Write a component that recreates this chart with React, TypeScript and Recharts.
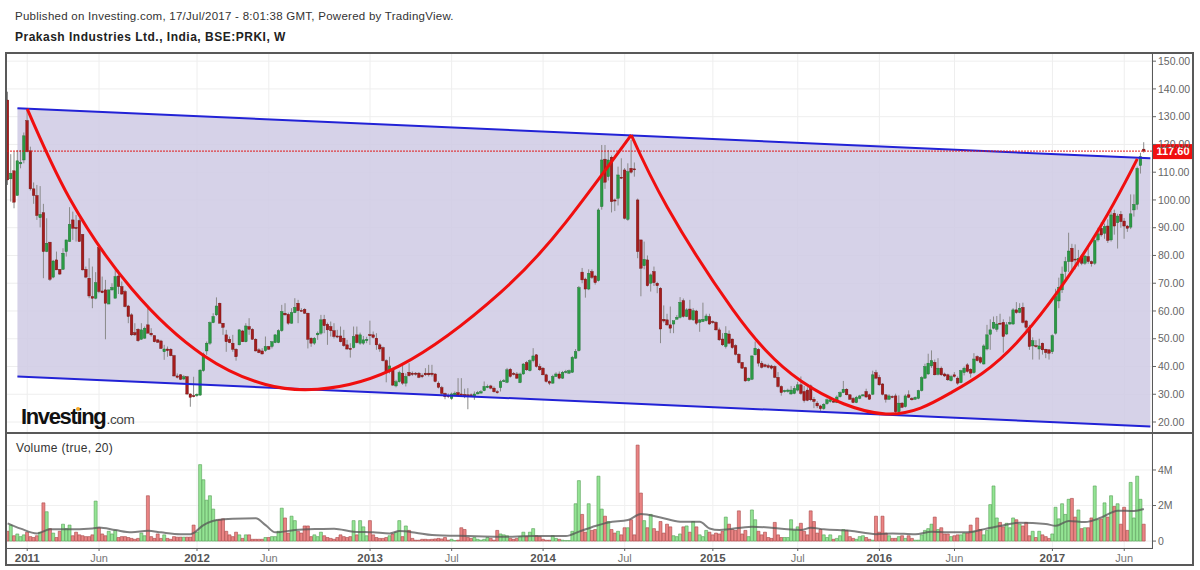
import { Area, Bar, CartesianGrid, Cell, ComposedChart, Line, ReferenceLine, XAxis, YAxis } from 'recharts';

const opens = [
  136,107.6,110.5,101.6,113,114.4,128.6,117.7,104,101.6,
  93.6,95.4,81.4,84.8,72.2,78.4,75,75,81.4,85,
  92.8,90.1,92.6,87.6,75,71.8,65.2,64.6,82.8,67.2,
  67.6,62.5,67.6,64.6,72.6,68.8,67,61.8,58.6,52.2,
  53.4,49.8,50.2,55,52,51.1,49.6,49.2,45.3,46.3,
  46.2,43.9,36.6,37,35.5,36.3,30.1,29.5,29.5,29.7,
  38.5,45.6,48.4,55.8,58.6,62.8,55.6,51.4,49.8,48.4,
  46.2,47.8,52.8,48.9,54.4,53.4,49.8,46,45.6,45.7,
  47.2,47.2,48.6,48.6,52.9,59.2,58.8,55.6,59.4,62.8,
  60.2,60.6,59.2,50.2,48.4,51.4,52,57,55.2,54.4,
  52.9,51,51,50.2,47.8,46.5,46.8,51.4,48.4,48.4,
  49.3,51.5,51.4,50.2,47.8,46.8,42.1,38.5,38.7,33,
  34.5,37.6,34,37.9,37.6,37.6,37.6,36.8,37.6,37.6,
  37.6,37.3,34,32.4,30.3,29.6,28.5,29.8,30.6,30.1,
  29.9,29.8,29.8,29.1,30.1,30.4,31.3,32.4,33,32.2,
  30.9,32.4,34.5,34.3,39,37.5,37.3,34.2,37.3,41.4,
  38.5,42.1,44.2,40,39.4,37,34.6,34,36.4,37.3,
  35.8,37.8,37.6,37.9,43,45.7,74,71.5,67.9,74.2,
  72.6,70.9,97.6,114.7,108.4,115.4,100,100.6,108.2,110.8,
  93,111.4,111.2,100,85.6,76.3,78.4,70,74.2,70,
  68.2,57,56.8,55,55.3,57,57.7,63.7,58,60.7,
  56.8,60,55.9,56.2,56.5,58,56.2,55.9,53.2,49.9,
  47.2,51.7,49.9,47.5,44.4,41.5,39.6,34.9,35.4,44.2,
  46.2,41.2,40.6,40.3,40.2,40,36.1,32.8,31,31,
  30.1,30.3,31.5,33.4,31,31.5,33,28.2,26.8,25.8,
  24.8,26.6,27.4,27.5,27,29.1,30.6,31.8,29.8,28.5,
  27,28.5,29.4,31,29.8,30,37.8,36.1,33.7,29.8,
  28.2,29.2,29.4,23.7,26.8,25.5,29.8,28.5,28.2,28.5,
  31.3,35.8,37.3,40.2,41.5,37.2,39.4,37.3,37,34.9,
  37,35.8,34.2,37.8,40.6,39,37.8,43.6,43.2,40.9,
  46.3,51.6,53.8,53.4,55.6,55.9,51.7,55.3,55.3,60.4,
  59.5,61.3,56.4,54.1,47.4,47.5,46.3,48.4,46.2,46,
  45.3,52,63.6,67.6,74.2,77.8,82.6,78.7,77.8,79.8,
  77.2,79.6,77.8,77.2,85.6,89.8,88,90.6,85.6,95.2,
  91.8,94.8,92.4,90.6,90.2,96.4,98.4,112.4,118.3,
];

const closes = [
  107.2,109.6,99.2,114.1,113.6,123.1,117.4,104,101.6,94.4,
  94.8,81.4,84.4,71.4,78,74.8,73.3,80.8,85.6,91.2,
  89.8,89.7,85,74.8,72.2,65.4,64.6,70.2,67,66.6,
  62.8,67.6,68.5,72.4,68.8,66.1,61.6,58,51.4,51.4,
  49.3,53.2,53.8,52,51.4,48.9,48.7,46.5,46.3,45.7,
  43.9,36.6,36.1,35.4,36.3,30.1,28.9,29.1,30,38.7,
  44.5,48.4,55.8,58,61.8,55.6,54.1,48.9,48.6,46.2,
  43.5,53.2,48.9,54.6,53.4,49.8,45.6,45,44.5,47.2,
  46.2,48.9,51.4,52.9,59.8,58.6,55.6,59.4,61.3,60.1,
  60,59.2,49.8,48.4,50.2,52,56.8,54.7,53.2,52.9,
  50.8,50.6,48.9,47.5,46.3,46.2,50.8,48.6,51.4,49.6,
  49.8,51.1,50.5,47.8,46.3,42.1,38.1,40.2,33.3,34.5,
  37.8,34,36.4,36.7,37.1,37.2,36.1,36.3,37,37,
  37.1,34.6,32.5,30.3,29.1,29.1,30.1,30.4,29.8,29.6,
  29.4,29.1,29.5,30.1,30.6,30.9,32.8,32.9,32.2,30.9,
  30.7,34.5,34.9,38.8,36.4,37.1,35.8,37.3,40.9,38.8,
  42.1,43.8,40,38.8,37,34.6,34,36.4,37.3,35.8,
  37.9,38.2,38.5,43.3,45.4,68.4,71.2,67.9,73.6,72.1,
  70.2,96.4,114.4,106.4,114.4,99.4,99.6,109,107.9,93.4,
  110.2,110,111,81.4,75.4,78.6,69.1,73,70.2,69.1,
  53.5,56.4,55,53.8,56.5,57.7,63.1,58,60.4,57,
  60.1,55.6,56.8,57,58.2,55.3,55.8,53.2,49.6,47.8,
  52,48.4,46.8,44.4,41.4,39.4,34.8,35.8,43.8,46.6,
  41.2,39.7,40,39.7,39.4,36.1,32.8,30.6,31.3,31.5,
  31.5,32.1,33.4,30.3,27.7,27.8,28,27.4,25.8,24.8,
  26.4,28,28,27.3,29,30.6,31.8,29.8,28.2,27,
  28.9,29.4,29.8,29,28.2,37,35.8,33.4,30,28.2,
  29.4,29,23.7,26.8,25.3,29.4,28.9,28,28.9,31.3,
  36,40,41.2,42.1,37,39.4,37,36.6,35.2,36.4,
  36.4,34,38.5,39.4,38.2,37.6,42.7,42.1,41.5,47.4,
  51.4,53.2,55.9,55.3,55.5,50.8,55,55.9,60.4,59.4,
  61,55.9,54.1,47.2,49.3,47.3,47.4,46,45,44.8,
  51.1,65.2,68.5,73.3,77.8,81.6,77.8,78.5,79,77.2,
  79.8,77.8,77,85.4,87.8,87.4,90.4,85.4,94.6,90.6,
  94.2,92.2,90.6,89.8,95,98.4,111.4,115.6,117.6,
];

const highs = [
  139,116.5,117.4,118,118,124.3,132.4,119.2,106.3,105.4,
  105,98.6,93.4,84.8,78.4,81.4,75,82.6,85.6,97.4,
  95.8,94.6,93.4,87.6,76,79,76,74,82.8,72.4,
  71.2,67.6,70,74.8,74.8,70.6,67.6,62.2,59.2,55.6,
  53.8,55.6,54.4,61,53.8,51.3,49.8,49.6,47.8,47.2,
  46.6,44.2,37.5,37.3,36.9,36.6,30.3,36.3,30.3,39,
  45,49,56.2,59.2,64.9,63,55.6,53.2,50.8,51.4,
  46.6,53.4,53.2,55.6,57.4,53.8,50.2,46.6,46.6,50.8,
  47.4,49.2,51.6,53.4,62.2,62.8,59.4,61,64.6,64,
  61,61,59.4,50.5,50.6,52.6,58.6,58.6,55.8,56.2,
  55.6,53.2,54.4,53.2,49.6,48.4,54.4,54.4,52.2,51,
  50.7,56.5,52.6,52,48.4,47.2,42.6,43.5,39,35.2,
  38.5,41.2,37.5,41.2,38.2,38,38,37.5,39.4,40.6,
  40.6,37.6,34.6,33,30.6,30.3,30.6,31,35.8,35.8,
  32,32.2,30.3,31,31.2,31.5,34.6,33.5,33.4,32.8,
  31.5,35.2,35.5,39.5,39.5,38,38,37.8,41.2,42,
  42.6,46.6,44.5,41,39.8,37.4,35,37,37.9,38.2,
  38.4,38.8,38.9,43.8,46.3,69,75.5,72,75,75,
  73,97,119.8,119.8,118,116,100.5,112,115,111.5,
  113.2,121.6,113.5,100.5,85.6,85,80,73.5,76,70.5,
  68.6,62,59,61.6,55.8,58.5,65,64.5,61,64,
  61,60.4,57,63,59,59,56.6,56.3,54,52,
  54.5,53,50,48,44.8,41,39.9,36,44,49,
  46.6,42,41,41,40.6,40.4,38,33.2,31.6,32,
  33,33,34.5,36.4,33,32.5,33.5,29,27.5,26.2,
  26.8,28.5,28.6,28,29.6,31,34.8,32.2,30,29,
  29.4,29.8,30,32,30.2,38.5,38.8,37,34,30,
  30,29.6,30.2,29.6,27.2,30,31.4,29,29.2,31.6,
  36.5,41,44.6,45.8,42.5,43,40,37.8,37.4,37,
  38,36.4,38.8,40,41.2,39.4,44.8,44,43.6,48,
  55,57,58,58.2,59,57,56,58,61,63.2,
  62.8,63,56.8,55,50.5,49.5,50,48.6,46.4,46.2,
  51.6,68,72,76,79.5,88.2,84.2,84,82,80.4,
  80.2,83,78.2,87,90,92,91.5,93,96,96.5,
  95,96,93.5,91,102,102,112,117,120.8,
];

const lows = [
  105.4,99.4,97,101.6,111.4,113.2,117.1,103.4,98.6,92.8,
  90.1,71.8,81.2,70.8,71.8,74.8,73,74.8,79.6,85,
  85.6,85,85,74.6,71.8,64.6,61,64.2,66.4,66.4,
  49.8,62.5,67.3,64.6,66.1,65.8,61.3,55.6,51,51,
  48.9,49.6,50,52,50.8,48.7,48.6,46.3,42.4,43.5,
  43.7,36.3,35.7,35.1,35.1,29.7,25.5,28.9,29.1,29.4,
  38.1,44.2,47.8,55.6,58.2,55.6,51.4,45.3,48.4,45.3,
  42.1,47.6,48.9,48.7,51.4,49.6,45.4,44.8,44.4,45.3,
  46,46.5,48.4,48.4,52.5,58.3,55,55.4,59.2,55.6,
  59.8,58.9,46.5,47.1,47.8,49.6,51.4,52,47.8,50.8,
  50.1,50.2,48.7,47.1,46,43.2,46.5,48.3,47.8,47.8,
  48.4,47.8,50.1,46,45.3,41.8,34.3,37.5,33,32.5,
  34.2,33.4,32.8,36.4,36.6,36.7,35.8,35.8,36.6,36.4,
  36.4,34.3,32.1,29.8,28.2,28.6,28,29.4,29.4,29,
  28.6,24.6,29.2,28,30,30.5,31.1,32.2,31.8,30.6,
  30.2,31,34.5,34,36,36.8,35.5,34,37,38.4,
  38.2,41.5,39.6,38.4,36.8,34.2,33.3,33.8,36.2,35.4,
  35.5,37.5,37.3,37.7,42.7,45.4,70,64.8,67.5,71.5,
  69.5,70.6,96.5,104,107,95.5,96,98,107.5,93,
  92.5,109.5,108.4,79,65.3,75,68.8,67,69,66.4,
  48.4,55.8,54.6,52,52,57.2,57.3,57.6,57.8,56.6,
  56.4,55,52.5,56,56.2,55,55.4,52.9,49.2,47.4,
  46.5,48,46.4,44,41,39.1,34.5,34.6,35.1,44,
  40,39.3,39.6,39.3,38.9,35.8,32.4,29.5,30.6,30.6,
  29.8,30,31,29.8,27,27.5,27.5,25,25,24,
  24.4,26.2,27,27,26.8,28.8,30.4,29.6,28,26.8,
  26.8,28.2,29.2,28.8,28,29.7,35.4,33,29.6,27,
  28,28.6,23.2,23.4,25,25.2,28.6,27.7,28,28.2,
  31,35.5,37,39.5,36.8,36.8,36.6,36.2,34.8,34.6,
  36,33.4,34,36.8,37.8,36,37.4,41.8,41,40.7,
  45.8,46,53.4,52.5,55.2,45,51.4,55,55,59,
  59.2,55.5,53,46,42.5,46.8,42.5,44.3,43,42.5,
  44.5,51.5,61,66.5,70.6,74,74.5,75,76,76.5,
  76.6,77,76,76.6,85,86.8,86,84.5,85,87.5,
  82.5,90,86,88.5,89.5,94,96.5,109.5,117,
];

// volume in millions
const volumes = [
  .55,.9,.3,.4,.25,.35,.5,.25,.2,.3,
  .5,2.15,1.65,.7,.45,.2,.55,.95,.7,.9,
  .3,.5,.35,.3,.25,.25,.35,2.25,.75,.4,
  .3,.55,.4,.6,.2,.25,.25,.2,.15,.1,
  .15,.45,.3,2.55,.25,.15,.4,.15,.35,.15,
  .1,.25,.22,.22,.22,.22,.22,.9,.5,4.3,
  3.45,2.3,2.55,1.8,1.15,1.2,1.25,.55,.35,.25,
  .5,.35,.15,.35,.35,.1,.1,.1,.1,.2,
  .2,.25,.25,.55,1.85,1.3,.45,1.4,1.15,.55,
  .45,.85,.85,.25,.35,.25,.5,.3,.2,.15,
  .1,.2,.35,.25,.2,.25,1.15,.35,1.15,.8,
  .3,1.15,.35,.2,.15,.15,.2,.3,.4,.5,
  1.15,.25,.85,.6,.15,.05,.05,.1,.1,.08,
  .1,.12,.15,.12,.2,.05,.1,.03,.05,.75,
  .65,.2,.15,.2,.1,.05,.1,.2,.15,.05,
  .6,.4,.35,.3,.15,.1,.15,.25,.5,.25,
  .5,.7,.3,.25,.1,.05,.05,.3,.15,.1,
  .05,.03,.03,.55,2.1,3.4,1.5,.5,2.1,.6,
  .65,3.65,1.8,1.4,1.1,.65,.45,.55,.35,.75,
  .75,1.2,.35,5.4,2.7,1.15,.75,1.5,.7,.55,
  1.1,.45,.95,.8,.3,.25,.4,.8,.85,.5,
  1.1,.8,.35,.25,.6,.5,.35,.45,.4,.55,
  1.35,.95,.65,.6,1.7,.4,.6,.25,1.75,1.2,
  .55,.35,.5,.2,.15,1.05,.35,.2,.2,.2,
  1.2,.6,.8,1,.55,.35,1.7,1.1,.45,.65,
  .35,.2,.35,.1,.15,.3,.65,.6,.25,.15,
  .1,.25,.3,.2,.1,.05,1.4,.5,1.4,.45,
  .3,.15,.15,.25,.3,.15,.3,.15,.05,.05,
  .35,.6,.7,.95,1.35,.65,.75,.4,.4,.25,
  .3,.35,.35,.45,.45,.9,.55,1.3,.65,.35,
  .6,2.05,3.1,1.3,1.05,.8,1,.75,1.3,1.2,
  .95,.85,1.05,.3,.55,.2,.55,.35,.25,.15,
  .4,1.9,1.25,2.1,1.5,2.35,2.4,1.35,1.75,.7,
  .75,.75,1.3,3.1,1.2,1.25,2.15,1.35,2.55,1.95,
  2.1,.95,1.9,.6,3.3,1.3,3.65,2.35,.95,
];

// [week index, value]
const volumeAverage = [
  [0,1],[4,.7],[9,.43],[13,.66],[18,.66],[26,.71],[28,.77],[33,.62],[38,.49],[43,.58],[47,.49],[53,.39],[56,.39],
  [60,.9],[64,1.18],[69,1.26],[76,1.28],[79,.9],[82,.49],[88,.62],[95,.68],[100,.7],[106,.53],[112,.49],[117,.43],
  [120,.56],[125,.47],[130,.34],[141,.28],[151,.24],[161,.28],[171,.28],[175,.53],[180,.85],[184,1.05],[190,1.18],
  [194,1.52],[200,1.33],[206,1.09],[212,1.09],[215,.71],[218,.62],[228,.81],[243,.62],[246,.75],[250,.66],[258,.58],
  [266,.39],[271,.43],[278,.38],[283,.53],[288,.49],[294,.49],[300,.71],[304,.85],[310,1.03],[318,.96],[321,.86],
  [325,1.13],[330,1.07],[335,1.33],[340,1.71],[345,1.69],[348,1.8],
];
const channelTop = [[3,133],[350,115]];
const channelBottom = [[3,36.4],[350,18.4]];
const cupLeft = [
  [6,132.8],[19,100.5],[38,68],[60,44],[79,33.5],[95,31.8],[120,40.2],[151,66.7],[171,92],[191,123.4],
];
const cupRight = [
  [191,123.4],[202,97.5],[222,60.7],[243,34.8],[269,22.9],[289,30.6],[309,48.5],[332,85.2],[346,114.8],
];
const lastPrice = 117.6;
const priceTicks = [20,30,40,50,60,70,80,90,100,110,120,130,140,150];
const volumeTicks = [0,2,4];
const timeTicks = [
  [6,'2011'],[28,'Jun'],[58,'2012'],[80,'Jun'],[111,'2013'],[136,'Jul'],[164,'2014'],[189,'Jul'],
  [216,'2015'],[242,'Jul'],[267,'2016'],[290,'Jun'],[320,'2017'],[342,'Jun'],
] as [number, string][];

const weekCount = 351; // two empty weeks at the right edge
const anchor = (list: number[][]) => new Map(list.map(([i, v]) => [i, v]));
const topMap = anchor(channelTop);
const bottomMap = anchor(channelBottom);
const leftMap = anchor(cupLeft);
const rightMap = anchor(cupRight);
const avgMap = anchor(volumeAverage);

const rows = Array.from({ length: weekCount }, (_, i) => ({
  i,
  open: opens[i],
  close: closes[i],
  high: highs[i],
  low: lows[i],
  volume: volumes[i],
  avg: avgMap.get(i) ?? null,
  top: topMap.get(i) ?? null,
  bottom: bottomMap.get(i) ?? null,
  left: leftMap.get(i) ?? null,
  right: rightMap.get(i) ?? null,
}));

const font = '"Liberation Sans", Arial, sans-serif';
const tickLabel = (i: number) => timeTicks.find((t) => t[0] === i)?.[1] ?? '';

function Candle(props: any) {
  const { x, y, width, height, payload } = props;
  if (payload.open === undefined || !height) return <g />;
  const perUnit = height / (payload.high - payload.low);
  const top = y + (payload.high - Math.max(payload.open, payload.close)) * perUnit;
  const body = Math.max(Math.abs(payload.open - payload.close) * perUnit, 1);
  const up = payload.close >= payload.open;
  const cx = x + width / 2;
  return (
    <g>
      <line x1={cx} x2={cx} y1={y} y2={y + height} stroke="#8a8a8a" strokeWidth={1} />
      <rect x={cx - 1.3} y={top} width={2.6} height={body} fill={up ? '#2b9a45' : '#a51c1c'} stroke={up ? '#1d6e30' : '#6e1010'} strokeWidth={0.4} />
    </g>
  );
}

function TimeTick(props: any) {
  const { x, y, payload } = props;
  const text = tickLabel(payload.value);
  const isYear = /\d/.test(text);
  return (
    <text x={x} y={y + 9} textAnchor="middle" fontFamily={font} fontSize={isYear ? 11.5 : 11} fontWeight={isYear ? 700 : 400} fill={isYear ? '#555' : '#777'}>
      {text}
    </text>
  );
}

function PriceBadge(props: any) {
  const { viewBox } = props;
  const left = viewBox.x + viewBox.width;
  return (
    <g>
      <rect x={left + 1} y={viewBox.y - 7} width={40} height={15} fill="#f00f0f" />
      <text x={left + 21} y={viewBox.y + 4} textAnchor="middle" fontFamily={font} fontSize={11} fontWeight={700} fill="#fff">117.60</text>
    </g>
  );
}

function PriceChart() {
  return (
    <ComposedChart width={1200} height={381} data={rows} margin={{ top: 0, right: 0, bottom: 0, left: 6 }} style={{ position: 'absolute', left: 0, top: 52 }}>
      <CartesianGrid stroke="#eeeeee" strokeWidth={1} />
      <XAxis dataKey="i" type="category" hide ticks={timeTicks.map((t) => t[0])} interval={0} />
      <YAxis
        orientation="right"
        width={48}
        domain={[16.04, 153.3]}
        ticks={priceTicks}
        axisLine={false}
        tickSize={4}
        tickLine={{ stroke: '#666' }}
        tick={{ fontFamily: font, fontSize: 10.5, fill: '#666' }}
        tickFormatter={(v: number) => v.toFixed(2)}
        allowDataOverflow
      />
      <Area
        dataKey={(d: any) => (d.top === null ? null : [d.bottom, d.top])}
        type="linear"
        connectNulls
        stroke="none"
        fill="#cfcae4"
        fillOpacity={0.85}
        isAnimationActive={false}
      />
      <Bar dataKey={(d: any) => (d.open === undefined ? null : [d.low, d.high])} barSize={3} shape={<Candle />} isAnimationActive={false} />
      <Line dataKey="top" type="linear" connectNulls stroke="#2222d6" strokeWidth={2} dot={false} isAnimationActive={false} />
      <Line dataKey="bottom" type="linear" connectNulls stroke="#2222d6" strokeWidth={2} dot={false} isAnimationActive={false} />
      <Line dataKey="left" type="natural" connectNulls stroke="#f00f0f" strokeWidth={3} dot={false} isAnimationActive={false} />
      <Line dataKey="right" type="natural" connectNulls stroke="#f00f0f" strokeWidth={3} dot={false} isAnimationActive={false} />
      <ReferenceLine y={lastPrice} stroke="#e01818" strokeWidth={1} strokeDasharray="2 1" label={<PriceBadge />} />
    </ComposedChart>
  );
}

function VolumeChart() {
  return (
    <ComposedChart width={1200} height={132} data={rows} margin={{ top: 0, right: 0, bottom: 0, left: 6 }} style={{ position: 'absolute', left: 0, top: 433 }}>
      <CartesianGrid stroke="#f0f0f0" strokeWidth={1} />
      <XAxis
        dataKey="i"
        type="category"
        height={17}
        ticks={timeTicks.map((t) => t[0])}
        interval={0}
        axisLine={false}
        tickSize={3}
        tickLine={{ stroke: '#666' }}
        tick={<TimeTick />}
      />
      <YAxis
        orientation="right"
        width={48}
        domain={[-0.39, 6.08]}
        ticks={volumeTicks}
        axisLine={false}
        tickSize={4}
        tickLine={{ stroke: '#666' }}
        tick={{ fontFamily: font, fontSize: 10.5, fill: '#666' }}
        tickFormatter={(v: number) => (v === 0 ? '0' : `${v}M`)}
        allowDataOverflow
      />
      <Bar dataKey="volume" barSize={3} strokeWidth={0.6} isAnimationActive={false}>
        {rows.map((r) => {
          const up = r.close >= r.open;
          return <Cell key={r.i} fill={up ? '#94e494' : '#ea8484'} stroke={up ? '#55a055' : '#a84848'} />;
        })}
      </Bar>
      <Line dataKey="avg" type="monotone" connectNulls stroke="#555" strokeOpacity={0.75} strokeWidth={2} dot={false} isAnimationActive={false} />
    </ComposedChart>
  );
}

const rule = (style: React.CSSProperties) => <div style={{ position: 'absolute', background: '#595959', ...style }} />;

export default function App() {
  return (
    <div style={{ position: 'absolute', left: 0, top: 0, width: 1200, height: 570, background: '#fff', overflow: 'hidden', fontFamily: font }}>
      <div style={{ position: 'absolute', left: 15, top: 10, fontSize: 11.5, letterSpacing: 0.26, color: '#333', whiteSpace: 'nowrap' }}>
        Published on Investing.com, 17/Jul/2017 - 8:01:38 GMT, Powered by TradingView.
      </div>
      <div style={{ position: 'absolute', left: 15, top: 30, fontSize: 12, fontWeight: 700, letterSpacing: 0.5, color: '#222', whiteSpace: 'nowrap' }}>
        Prakash Industries Ltd., India, BSE:PRKI, W
      </div>
      <PriceChart />
      <VolumeChart />
      {rule({ left: 6, top: 52, width: 1188, height: 2 })}
      {rule({ left: 6, top: 564, width: 1188, height: 2 })}
      {rule({ left: 5, top: 52, width: 2, height: 514 })}
      {rule({ left: 1192, top: 52, width: 2, height: 514 })}
      {rule({ left: 6, top: 432, width: 1188, height: 1.5 })}
      {rule({ left: 6, top: 547.5, width: 1146, height: 1.5 })}
      {rule({ left: 1151.5, top: 52, width: 1.5, height: 497 })}
      <div style={{ position: 'absolute', left: 16, top: 441, fontSize: 12, letterSpacing: 0.3, color: '#333', whiteSpace: 'nowrap' }}>Volume (true, 20)</div>
      <div style={{ position: 'absolute', left: 21, top: 404, whiteSpace: 'nowrap', color: '#111' }}>
        <span style={{ fontSize: 22, fontWeight: 700, letterSpacing: -1.35 }}>Investing</span>
        <span style={{ fontSize: 13.5, color: '#444', letterSpacing: -0.3, marginLeft: 1 }}>.com</span>
      </div>
      <div style={{ position: 'absolute', left: 76, top: 407, width: 4, height: 4, borderRadius: 2, background: '#f5a623' }} />
    </div>
  );
}
